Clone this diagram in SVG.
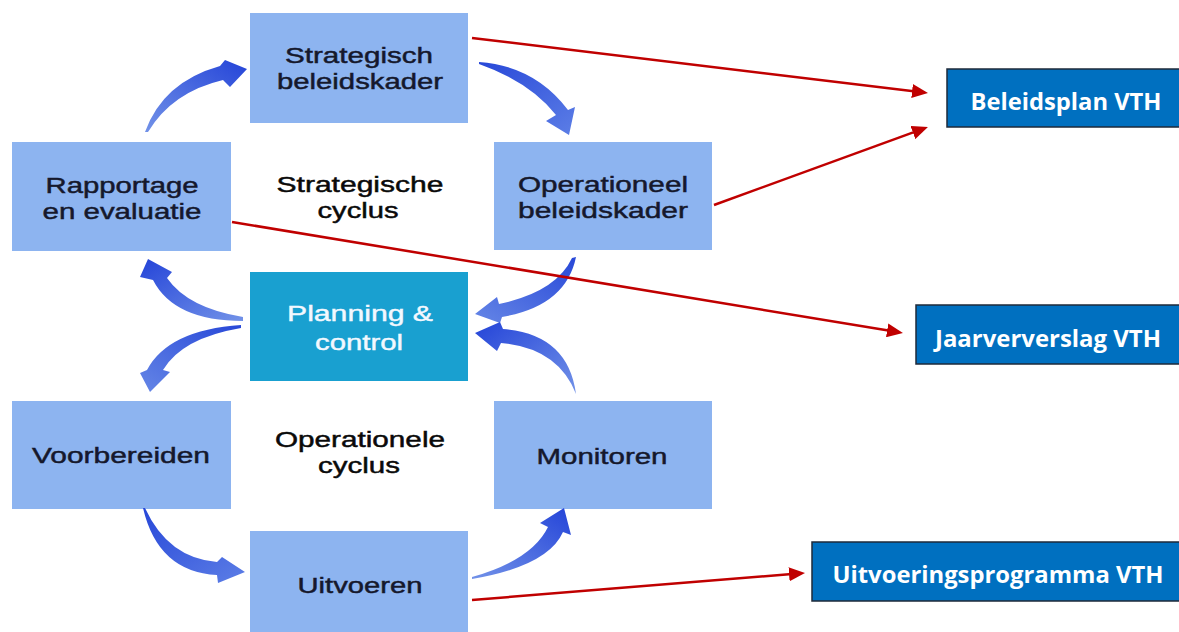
<svg xmlns="http://www.w3.org/2000/svg" width="1179" height="632" viewBox="0 0 1179 632">
<style>
.box{fill:#8db4f0}
.pc{fill:#19a0d0}
.out{fill:#0070c0;stroke:#1e2a3a;stroke-width:1.5}
.t{font-family:"Liberation Sans",Arial,sans-serif;font-size:22px;fill:#15182c;stroke:#15182c;stroke-width:0.45;text-anchor:middle}
.tc{font-family:"Liberation Sans",Arial,sans-serif;font-size:22px;fill:#0a0a0a;stroke:#0a0a0a;stroke-width:0.45;text-anchor:middle}
.tw{font-family:"Liberation Sans",Arial,sans-serif;font-size:22px;fill:#f2f8ff;stroke:#f2f8ff;stroke-width:0.4;text-anchor:middle}
.to{font-family:"Open Sans","Noto Sans",sans-serif;font-size:23px;font-weight:700;fill:#ffffff;text-anchor:middle}
.red{stroke:#c00000;stroke-width:2.5;fill:none;marker-end:url(#ah)}
</style>
<defs>
<marker id="ah" viewBox="0 0 16 14" refX="12" refY="7" markerWidth="16" markerHeight="14" orient="auto" markerUnits="userSpaceOnUse">
<path d="M0,0 L16,7 L0,14 Z" fill="#c00000"/>
</marker>
<linearGradient id="g1" x1="0" y1="1" x2="1" y2="0"><stop offset="0" stop-color="#7292e8"/><stop offset="1" stop-color="#2444d8"/></linearGradient>
<linearGradient id="g2" x1="0" y1="0" x2="1" y2="1"><stop offset="0" stop-color="#2848d8"/><stop offset="1" stop-color="#5c7ee6"/></linearGradient>
<linearGradient id="g3" x1="1" y1="0" x2="0" y2="1"><stop offset="0" stop-color="#2848d8"/><stop offset="1" stop-color="#6586e6"/></linearGradient>
<linearGradient id="g4" x1="1" y1="1" x2="0" y2="0"><stop offset="0" stop-color="#7292e8"/><stop offset="1" stop-color="#2444d8"/></linearGradient>
</defs>

<g id="node-strategisch">
<rect class="box" x="250" y="13" width="218" height="110"/>
<text class="t" x="359" y="63" textLength="148" lengthAdjust="spacingAndGlyphs">Strategisch</text>
<text class="t" x="360" y="89" textLength="166" lengthAdjust="spacingAndGlyphs">beleidskader</text>
</g>
<g id="node-rapportage">
<rect class="box" x="12" y="142" width="219" height="109"/>
<text class="t" x="122" y="193" textLength="153" lengthAdjust="spacingAndGlyphs">Rapportage</text>
<text class="t" x="122" y="219" textLength="159" lengthAdjust="spacingAndGlyphs">en evaluatie</text>
</g>
<g id="label-strategische-cyclus">
<text class="tc" x="360" y="192" textLength="167" lengthAdjust="spacingAndGlyphs">Strategische</text>
<text class="tc" x="358" y="218" textLength="81" lengthAdjust="spacingAndGlyphs">cyclus</text>
</g>
<g id="node-operationeel">
<rect class="box" x="494" y="142" width="218" height="108"/>
<text class="t" x="603" y="192" textLength="170" lengthAdjust="spacingAndGlyphs">Operationeel</text>
<text class="t" x="603" y="218" textLength="170" lengthAdjust="spacingAndGlyphs">beleidskader</text>
</g>
<g id="node-planning">
<rect class="pc" x="250" y="272" width="218" height="109"/>
<text class="tw" x="360" y="321" textLength="146" lengthAdjust="spacingAndGlyphs">Planning &amp;</text>
<text class="tw" x="359" y="350" textLength="88" lengthAdjust="spacingAndGlyphs">control</text>
</g>
<g id="node-voorbereiden">
<rect class="box" x="12" y="401" width="219" height="108"/>
<text class="t" x="121" y="463" textLength="178" lengthAdjust="spacingAndGlyphs">Voorbereiden</text>
</g>
<g id="label-operationele-cyclus">
<text class="tc" x="360" y="447" textLength="170" lengthAdjust="spacingAndGlyphs">Operationele</text>
<text class="tc" x="359" y="473" textLength="82" lengthAdjust="spacingAndGlyphs">cyclus</text>
</g>
<g id="node-monitoren">
<rect class="box" x="494" y="401" width="218" height="108"/>
<text class="t" x="602" y="464" textLength="131" lengthAdjust="spacingAndGlyphs">Monitoren</text>
</g>
<g id="node-uitvoeren">
<rect class="box" x="250" y="531" width="218" height="101"/>
<text class="t" x="360" y="593" textLength="125" lengthAdjust="spacingAndGlyphs">Uitvoeren</text>
</g>

<g id="node-beleidsplan">
<rect class="out" x="947" y="69" width="235" height="58"/>
<text class="to" x="1066" y="110" textLength="191" lengthAdjust="spacingAndGlyphs">Beleidsplan VTH</text>
</g>
<g id="node-jaarverslag">
<rect class="out" x="916" y="305" width="266" height="59"/>
<text class="to" x="1048" y="347" textLength="226" lengthAdjust="spacingAndGlyphs">Jaarververslag VTH</text>
</g>
<g id="node-uitvoeringsprogramma">
<rect class="out" x="812" y="542" width="370" height="59"/>
<text class="to" x="998" y="583" textLength="331" lengthAdjust="spacingAndGlyphs">Uitvoeringsprogramma VTH</text>
</g>

<g id="connectors">
<path fill="url(#g1)" d="M145,132 Q163,82 220,66 L225,60 L247,69 L230,87 L223,80 Q172,92 148,132 Z"/>
<path fill="url(#g2)" d="M479,62 Q535,66 568,110 L575,107 L569,135 L546,121 L556,115 Q530,82 479,64 Z"/>
<path fill="url(#g3)" d="M576,257 Q566,306 502,317 L500,323 L475,314 L497,297 L499,304 Q556,292 572,258 Z"/>
<path fill="url(#g4)" d="M576,394 Q558,348 501,343 L497,351 L475,333 L500,322 L503,329 Q568,334 576,394 Z"/>
<path fill="url(#g4)" d="M243,317 Q188,308 167,278 L172,272 L148,259 L140,277 L153,280 Q174,321 243,321 Z"/>
<path fill="url(#g3)" d="M241,325 Q168,330 147,370 L140,373 L150,392 L170,372 L163,370 Q182,338 241,328 Z"/>
<path fill="url(#g2)" d="M145,508 Q168,558 217,562 L222,557 L245,572 L218,583 L217,575 Q158,572 143,508 Z"/>
<path fill="url(#g1)" d="M472,579 Q548,566 563,532 L571,535 L564,508 L540,523 L548,527 Q532,560 472,577 Z"/>
<line class="red" x1="472" y1="38" x2="924" y2="92.5"/>
<line class="red" x1="714" y1="205" x2="924.2" y2="128.4"/>
<line class="red" x1="232" y1="222" x2="899" y2="332.3"/>
<line class="red" x1="472" y1="600" x2="801" y2="573.3"/>
</g>
</svg>
